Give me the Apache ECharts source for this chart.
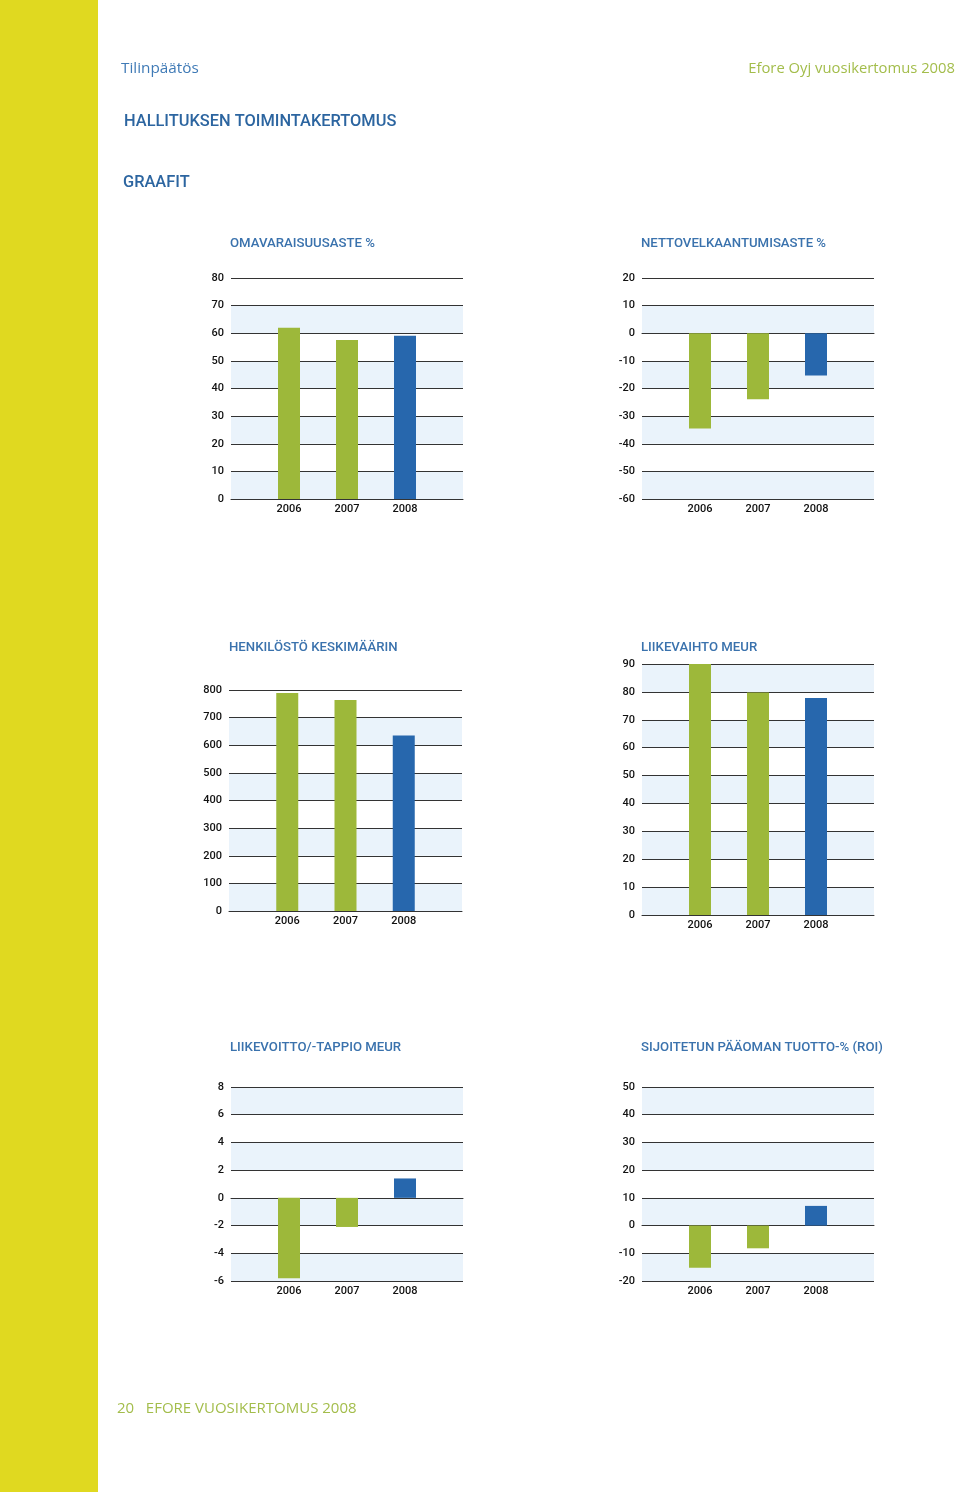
<!DOCTYPE html>
<html>
<head>
<meta charset="utf-8">
<script src="https://cdn.jsdelivr.net/npm/echarts@6/dist/echarts.min.js"></script>
<style>
html,body{margin:0;padding:0;background:#fff;}
#c{width:960px;height:1492px;}
</style>
</head>
<body>
<div id="c"></div>
<script>
const years = [2006, 2007, 2008];
const omavaraisuusaste = [62.0, 57.6, 59.1];
const nettovelkaantumisaste = [-34.5, -23.9, -15.3];
const henkilosto = [789, 764, 635];
const liikevaihto = [90.1, 79.8, 77.8];
const liikevoitto = [-5.8, -2.1, 1.4];
const roi = [-15.2, -8.2, 7.1];
const barColors = ['#9db83a', '#9db83a', '#2767ad'];

const chartTitles = ['OMAVARAISUUSASTE %', 'NETTOVELKAANTUMISASTE %', 'HENKILÖSTÖ KESKIMÄÄRIN', 'LIIKEVAIHTO MEUR', 'LIIKEVOITTO/-TAPPIO MEUR', 'SIJOITETUN PÄÄOMAN TUOTTO-% (ROI)'];
const yRanges = [[0, 80, 10], [-60, 20, 10], [0, 800, 100], [0, 90, 10], [-6, 8, 2], [-20, 50, 10]];
const seriesValues = [omavaraisuusaste, nettovelkaantumisaste, henkilosto, liikevaihto, liikevoitto, roi];

const grids = [
  {left: 231, top: 278, width: 232, height: 221},
  {left: 642, top: 278, width: 232, height: 221},
  {left: 229, top: 690, width: 233, height: 221},
  {left: 642, top: 664, width: 232, height: 251},
  {left: 231, top: 1087, width: 232, height: 194},
  {left: 642, top: 1087, width: 232, height: 194}
];
const titlePos = [[230, 242], [641, 242], [229, 646], [641, 646], [230, 1046], [641, 1046]];

const font = 'Roboto, "Noto Sans", sans-serif';

const xAxes = [], yAxes = [], series = [];
grids.forEach((g, i) => {
  xAxes.push({
    type: 'value', gridIndex: i, min: 2005, max: 2009, interval: 1,
    axisLine: {show: true, lineStyle: {color: '#333', width: 1}},
    axisTick: {show: false},
    splitLine: {show: false},
    axisLabel: {
      color: '#111', fontSize: 11, fontWeight: 500, fontFamily: font, margin: 5,
      formatter: v => (years.indexOf(v) >= 0 ? String(v) : '')
    }
  });
  yAxes.push({
    type: 'value', gridIndex: i, min: yRanges[i][0], max: yRanges[i][1], interval: yRanges[i][2],
    axisLine: {show: false}, axisTick: {show: false},
    splitLine: {show: true, lineStyle: {color: '#333', width: 1}},
    splitArea: {show: true, areaStyle: {color: ['#eaf3fb', '#ffffff']}},
    axisLabel: {color: '#111', fontSize: 11, fontWeight: 500, fontFamily: font, margin: 7, padding: [0, 0, 6, 0]}
  });
  series.push({
    type: 'bar', xAxisIndex: i, yAxisIndex: i, barWidth: 22,
    data: years.map((y, k) => ({value: [y, seriesValues[i][k]], itemStyle: {color: barColors[k]}})),
    silent: true
  });
});

const graphics = [
  {type: 'rect', shape: {x: 0, y: 0, width: 98, height: 1492}, style: {fill: '#e0d920'}, z: 0},
  {type: 'text', x: 121, y: 69, style: {text: 'Tilinpäätös', font: '15.3px "Open Sans", sans-serif', fill: '#3f7ab6', textVerticalAlign: 'middle'}},
  {type: 'text', x: 955, y: 69, style: {text: 'Efore Oyj vuosikertomus 2008', font: '14.8px "Open Sans", sans-serif', fill: '#a3bd4b', textAlign: 'right', textVerticalAlign: 'middle'}},
  {type: 'text', x: 124, y: 122, style: {text: 'HALLITUKSEN TOIMINTAKERTOMUS', font: '500 16.4px Roboto, sans-serif', fill: '#2c65a0', textVerticalAlign: 'middle'}},
  {type: 'text', x: 123, y: 183, style: {text: 'GRAAFIT', font: '500 16.4px Roboto, sans-serif', fill: '#2c65a0', textVerticalAlign: 'middle'}},
  {type: 'text', x: 117, y: 1409, style: {text: '20   EFORE VUOSIKERTOMUS 2008', font: '15px "Open Sans", sans-serif', fill: '#a3bd4b', textVerticalAlign: 'middle'}}
];
chartTitles.forEach((t, i) => {
  graphics.push({type: 'text', x: titlePos[i][0], y: titlePos[i][1] + 1.5, style: {text: t, font: '500 13.2px Roboto, sans-serif', fill: '#3a72ad', textVerticalAlign: 'middle'}});
});

const chart = echarts.init(document.getElementById('c'), null, {renderer: 'canvas'});
chart.setOption({
  animation: false,
  backgroundColor: '#ffffff',
  grid: grids,
  xAxis: xAxes,
  yAxis: yAxes,
  series: series,
  graphic: graphics
});
</script>
</body>
</html>
